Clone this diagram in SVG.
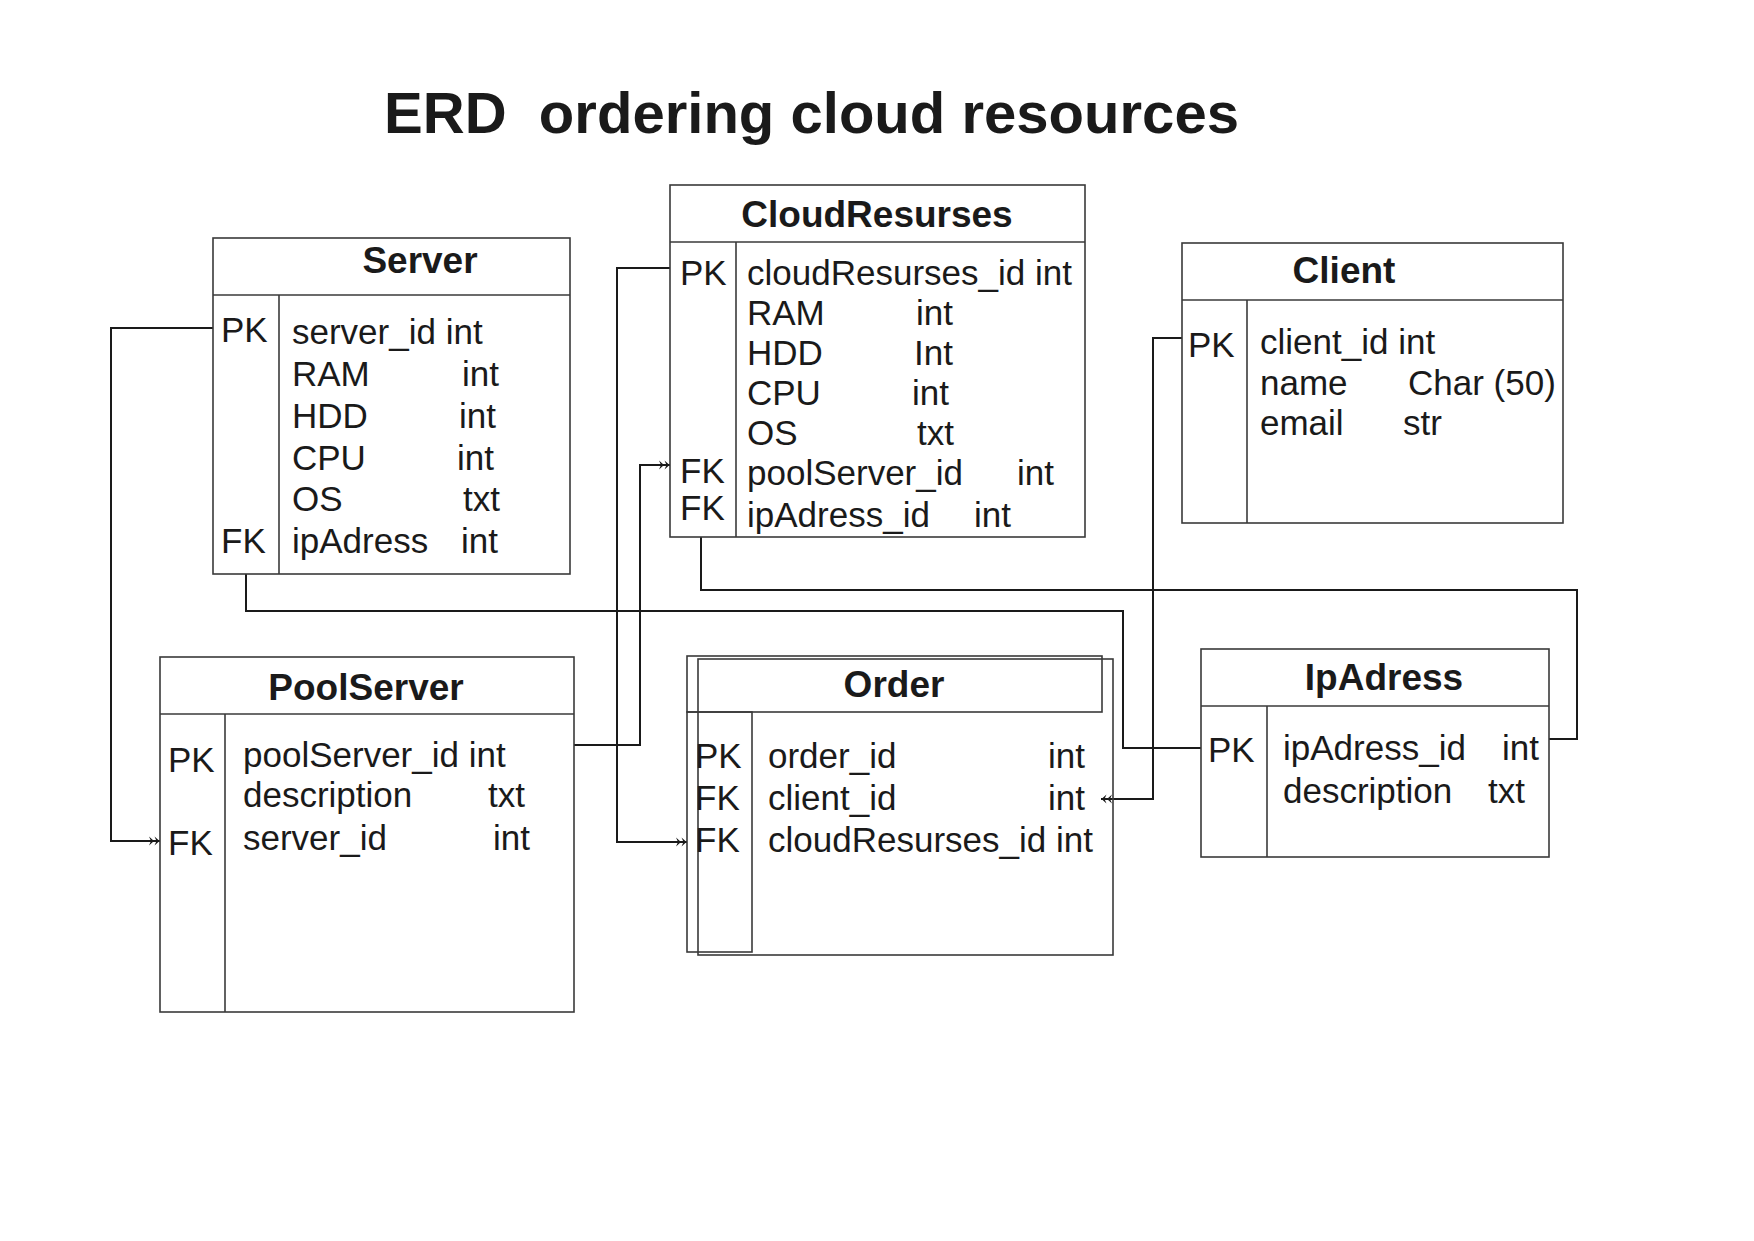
<svg xmlns="http://www.w3.org/2000/svg" width="1754" height="1241" viewBox="0 0 1754 1241">
<style>
.box{fill:none;stroke:#3a3a3a;stroke-width:1.6}
.conn{fill:none;stroke:#1a1a1a;stroke-width:2}
.t{font-family:"Liberation Sans",Arial,sans-serif;font-size:35px;fill:#1a1a1a}
.h{font-family:"Liberation Sans",Arial,sans-serif;font-size:37px;font-weight:bold;fill:#1a1a1a;text-anchor:middle}
.title{font-family:"Liberation Sans",Arial,sans-serif;font-size:58px;font-weight:bold;fill:#1a1a1a}
</style>
<defs>
<marker id="dbl" viewBox="-12 -6 13 12" markerWidth="13" markerHeight="12" refX="0" refY="0" orient="auto" markerUnits="userSpaceOnUse">
<path d="M-11,-4.5 L-6,0 L-11,4.5 L-9,0 Z M-5.5,-4.5 L-0.5,0 L-5.5,4.5 L-3.5,0 Z" fill="#1a1a1a"/>
</marker>
</defs>
<rect width="1754" height="1241" fill="#ffffff"/>
<text class="title" x="384" y="133" textLength="855" lengthAdjust="spacingAndGlyphs" xml:space="preserve">ERD  ordering cloud resources</text>

<g id="connectors">
<path class="conn" d="M213,328 H111 V841 H160" marker-end="url(#dbl)"/>
<path class="conn" d="M574,745 H640 V465 H670" marker-end="url(#dbl)"/>
<path class="conn" d="M670,268 H617 V842 H687" marker-end="url(#dbl)"/>
<path class="conn" d="M1182,338 H1153 V799 H1101" marker-end="url(#dbl)"/>
<path class="conn" d="M246,574 V611 H1123 V748 H1201"/>
<path class="conn" d="M701,537 V590 H1577 V739 H1549"/>
</g>

<g id="server">
<rect class="box" x="213" y="238" width="357" height="336"/>
<line class="box" x1="213" y1="295" x2="570" y2="295"/>
<line class="box" x1="279" y1="295" x2="279" y2="574"/>
<text class="h" x="420" y="273">Server</text>
<text class="t" x="221" y="342">PK</text>
<text class="t" x="221" y="553">FK</text>
<text class="t" x="292" y="344">server_id int</text>
<text class="t" x="292" y="386">RAM</text><text class="t" x="462" y="386">int</text>
<text class="t" x="292" y="428">HDD</text><text class="t" x="459" y="428">int</text>
<text class="t" x="292" y="470">CPU</text><text class="t" x="457" y="470">int</text>
<text class="t" x="292" y="511">OS</text><text class="t" x="463" y="511">txt</text>
<text class="t" x="292" y="553">ipAdress</text><text class="t" x="461" y="553">int</text>
</g>

<g id="cloudresurses">
<rect class="box" x="670" y="185" width="415" height="352"/>
<line class="box" x1="670" y1="242" x2="1085" y2="242"/>
<line class="box" x1="736" y1="242" x2="736" y2="537"/>
<text class="h" x="877" y="227">CloudResurses</text>
<text class="t" x="680" y="285">PK</text>
<text class="t" x="680" y="483">FK</text>
<text class="t" x="680" y="520">FK</text>
<text class="t" x="747" y="285">cloudResurses_id int</text>
<text class="t" x="747" y="325">RAM</text><text class="t" x="916" y="325">int</text>
<text class="t" x="747" y="365">HDD</text><text class="t" x="914" y="365">Int</text>
<text class="t" x="747" y="405">CPU</text><text class="t" x="912" y="405">int</text>
<text class="t" x="747" y="445">OS</text><text class="t" x="917" y="445">txt</text>
<text class="t" x="747" y="485">poolServer_id</text><text class="t" x="1017" y="485">int</text>
<text class="t" x="747" y="527">ipAdress_id</text><text class="t" x="974" y="527">int</text>
</g>

<g id="client">
<rect class="box" x="1182" y="243" width="381" height="280"/>
<line class="box" x1="1182" y1="300" x2="1563" y2="300"/>
<line class="box" x1="1247" y1="300" x2="1247" y2="523"/>
<text class="h" x="1344" y="283">Client</text>
<text class="t" x="1188" y="357">PK</text>
<text class="t" x="1260" y="354">client_id int</text>
<text class="t" x="1260" y="395">name</text><text class="t" x="1408" y="395">Char (50)</text>
<text class="t" x="1260" y="435">email</text><text class="t" x="1403" y="435">str</text>
</g>

<g id="poolserver">
<rect class="box" x="160" y="657" width="414" height="355"/>
<line class="box" x1="160" y1="714" x2="574" y2="714"/>
<line class="box" x1="225" y1="714" x2="225" y2="1012"/>
<text class="h" x="366" y="700">PoolServer</text>
<text class="t" x="168" y="772">PK</text>
<text class="t" x="168" y="855">FK</text>
<text class="t" x="243" y="767">poolServer_id int</text>
<text class="t" x="243" y="807">description</text><text class="t" x="488" y="807">txt</text>
<text class="t" x="243" y="850">server_id</text><text class="t" x="493" y="850">int</text>
</g>

<g id="order">
<rect class="box" x="687" y="656" width="415" height="56"/>
<rect class="box" x="687" y="712" width="65" height="240"/>
<rect class="box" x="698" y="659" width="415" height="296"/>
<text class="h" x="894" y="697">Order</text>
<text class="t" x="695" y="768">PK</text>
<text class="t" x="695" y="810">FK</text>
<text class="t" x="695" y="852">FK</text>
<text class="t" x="768" y="768">order_id</text><text class="t" x="1048" y="768">int</text>
<text class="t" x="768" y="810">client_id</text><text class="t" x="1048" y="810">int</text>
<text class="t" x="768" y="852">cloudResurses_id int</text>
</g>

<g id="ipadress">
<rect class="box" x="1201" y="649" width="348" height="208"/>
<line class="box" x1="1201" y1="706" x2="1549" y2="706"/>
<line class="box" x1="1267" y1="706" x2="1267" y2="857"/>
<text class="h" x="1384" y="690">IpAdress</text>
<text class="t" x="1208" y="762">PK</text>
<text class="t" x="1283" y="760">ipAdress_id</text><text class="t" x="1502" y="760">int</text>
<text class="t" x="1283" y="803">description</text><text class="t" x="1488" y="803">txt</text>
</g>
</svg>
